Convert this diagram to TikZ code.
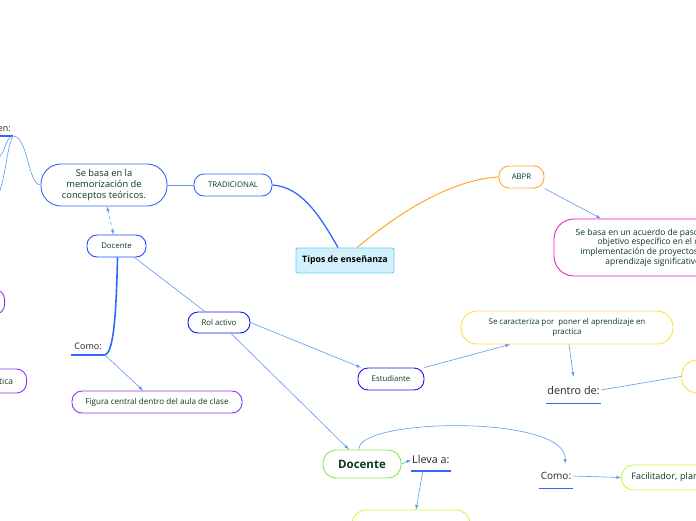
\documentclass[tikz,border=0pt]{standalone}
\usepackage{fontspec}
\setmainfont{Open Sans}
\usetikzlibrary{positioning}
\definecolor{chu}{RGB}{10,56,36}
\definecolor{xanh}{RGB}{51,102,255}
\definecolor{xanhnhat}{RGB}{90,155,240}
\definecolor{tim}{RGB}{140,50,240}
\definecolor{cam}{RGB}{255,168,40}
\definecolor{hong}{RGB}{240,30,200}
\definecolor{vang}{RGB}{255,225,60}
\definecolor{la}{RGB}{140,235,60}
\definecolor{chanh}{RGB}{215,245,60}
\tikzset{
  nut/.style={draw, line width=0.9pt, rounded corners=10pt, fill=white, text=chu,
    align=center, inner sep=2pt, font=\fontsize{7.8}{9}\selectfont},
  nhan/.style={inner sep=2pt, text=black!85, font=\fontsize{9}{11}\selectfont},
  noi/.style={xanhnhat, line width=0.6pt},
  gach/.style={draw=xanh, line width=1.4pt}
}
\begin{document}
\begin{tikzpicture}[>=latex, x=1pt, y=-1pt]
    \useasboundingbox (0,0) rectangle (696,520);
    \clip (0,0) rectangle (696,520);
    % Nút trung tâm
    \node[draw=cyan!60, fill=cyan!18, line width=0.9pt, rounded corners=2pt,
      minimum width=98pt, minimum height=25pt, font=\bfseries\fontsize{8.8}{11}\selectfont]
      (tam) at (345,260.5) {Tipos de enseñanza};
    % Nhánh TRADICIONAL
    \node[nut, draw=xanh, minimum width=78pt, minimum height=22pt] (tradicional) at (233,185) {TRADICIONAL};
    \node[nut, draw=xanh, rounded corners=20pt, minimum width=126pt, minimum height=42pt,
      font=\fontsize{9.3}{11}\selectfont] (sebasa) at (104,185)
      {Se basa en la\\ memorización de\\ conceptos teóricos.};
    \node[nhan, anchor=south east, minimum height=16pt] (en) at (13,136) {Se dividen en:};
    \coordinate (con1) at (-10,162);
    \coordinate (con2) at (-10,204);
    \node[nut, draw=tim, minimum width=60pt, minimum height=25pt, anchor=east] (trai1) at (5,302) {};
    \node[nut, draw=tim, minimum height=24pt, anchor=east, inner xsep=13.5pt,
      font=\fontsize{8.5}{10}\selectfont] (trai2) at (27,381) {Práctica};
    \node[nut, draw=xanh!70!blue, minimum width=59pt, minimum height=22pt] (docente1) at (116.5,246) {Docente};
    \node[nhan, anchor=south east, minimum height=18pt, inner xsep=3pt] (como1) at (105,355) {Como:};
    \node[nut, draw=tim, minimum width=170pt, minimum height=22pt, font=\fontsize{8.1}{9}\selectfont] (figura) at (157,402)
      {Figura central dentro del aula de clase};
    \node[nut, draw=blue!80!xanh, minimum width=62pt, minimum height=21pt] (rol) at (219,322.5) {Rol activo};
    \node[nut, draw=blue!75!tim, minimum width=66pt, minimum height=22pt] (estudiante) at (391,379) {Estudiante};
    \node[nut, draw=vang, rounded corners=16pt, minimum width=212pt, minimum height=33pt,
      font=\fontsize{7.9}{10.5}\selectfont] (caracteriza) at (567,327.5)
      {Se caracteriza por \ poner el aprendizaje en\\ practica};
    \node[nhan, minimum height=26pt, inner xsep=1pt, font=\fontsize{10.8}{12}\selectfont] (dentro) at (573.5,390) {dentro de:};
    \node[nut, draw=vang, rounded corners=16pt, minimum width=60pt, minimum height=33pt, anchor=west] (phai) at (681,376.5) {};
    % Nhánh ABPR
    \node[nut, draw=cam, minimum width=45pt, minimum height=22pt] (abpr) at (521.5,177) {ABPR};
    \node[nut, draw=hong, rounded corners=20pt, minimum width=200pt, minimum height=57pt,
      font=\fontsize{8.5}{9.8}\selectfont] (pasos) at (654,247.5)
      {Se basa en un acuerdo de pasos con un\\ objetivo específico en el cual\\
       implementación de proyectos genera\\ aprendizaje significativo.};
    % Docente và các nhánh con
    \node[nut, draw=la, rounded corners=13pt, minimum width=78pt, minimum height=28pt,
      font=\bfseries\fontsize{11.5}{13}\selectfont] (docente2) at (362,464) {Docente};
    \node[nhan, anchor=south west, minimum height=22pt, inner xsep=1pt, font=\fontsize{10.8}{12}\selectfont] (lleva) at (411,471) {Lleva a:};
    \node[nut, draw=chanh, rounded corners=14pt, minimum width=118pt, minimum height=30pt] (duoi) at (411,525) {};
    \node[nhan, minimum height=24pt, font=\fontsize{10}{12}\selectfont] (como2) at (556,476) {Como:};
    \node[nut, draw=chanh, rounded corners=12pt, minimum width=160pt, minimum height=25pt, anchor=west,
      align=left, inner xsep=10pt, text width=140pt, font=\fontsize{9}{10}\selectfont] (facil) at (621,477.5)
      {Facilitador, planificador y guía};
    % Gạch chân
    \path[gach] (en.south west) -- (en.south east);
    \path[gach] (como1.south west) -- (como1.south east);
    \path[gach] (dentro.south west) -- (dentro.south east);
    \path[gach] (lleva.south west) -- (lleva.south east);
    \path[gach] (como2.south west) -- (como2.south east);
    % Đường nối
    \draw[xanh, line width=1.3pt] ([xshift=-7pt]tam.north) .. controls (318,212) and (300,187) .. (tradicional.east);
    \draw[cam, line width=1pt] ([xshift=12pt]tam.north) .. controls (400,212) and (450,180) .. (abpr.west);
    \draw[noi] (tradicional.west) -- (sebasa.east);
    \draw[noi] (sebasa.west) .. controls (28,185) and (28,136) .. (en.south east);
    \draw[noi] (en.south east) .. controls (3,138) and (8,158) .. (con1);
    \draw[noi] (en.south east) .. controls (5,150) and (5,200) .. (con2);
    \draw[noi, dashed, <->] ([xshift=3pt]sebasa.south) -- ([xshift=-3pt]docente1.north);
    \draw[xanh, line width=1.6pt] ([xshift=1pt]docente1.south) .. controls (116,330) and (112,352) .. (como1.south east);
    \draw[noi, ->] (como1.south east) -- ([xshift=-14pt]figura.north);
    \draw[noi] ([xshift=-12pt]docente1.south east) -- ([xshift=-14pt]rol.north);
    \draw[noi, ->] (rol.east) -- ([xshift=-30pt]estudiante.north);
    \draw[noi, ->] ([xshift=12pt]rol.south) -- ([xshift=-13pt]docente2.north);
    \draw[noi, ->] (estudiante.north east) -- ([xshift=-57pt]caracteriza.south);
    \draw[noi, ->] ([xshift=2pt]caracteriza.south) -- (dentro.north);
    \draw[noi] (dentro.east) -- (phai.west);
    \draw[noi, ->] (abpr.south east) -- ([xshift=-53pt]pasos.north);
    \draw[noi, ->] (docente2.east) -- (lleva.west);
    \draw[noi, ->] ([xshift=-8pt]lleva.south) -- ([xshift=5pt]duoi.north);
    \draw[noi, ->] ([xshift=-3pt]docente2.north) .. controls (356,418) and (568,414) .. ([xshift=9pt]como2.north);
    \draw[noi, ->] (como2.east) -- (facil.west);
\end{tikzpicture}
\end{document}
